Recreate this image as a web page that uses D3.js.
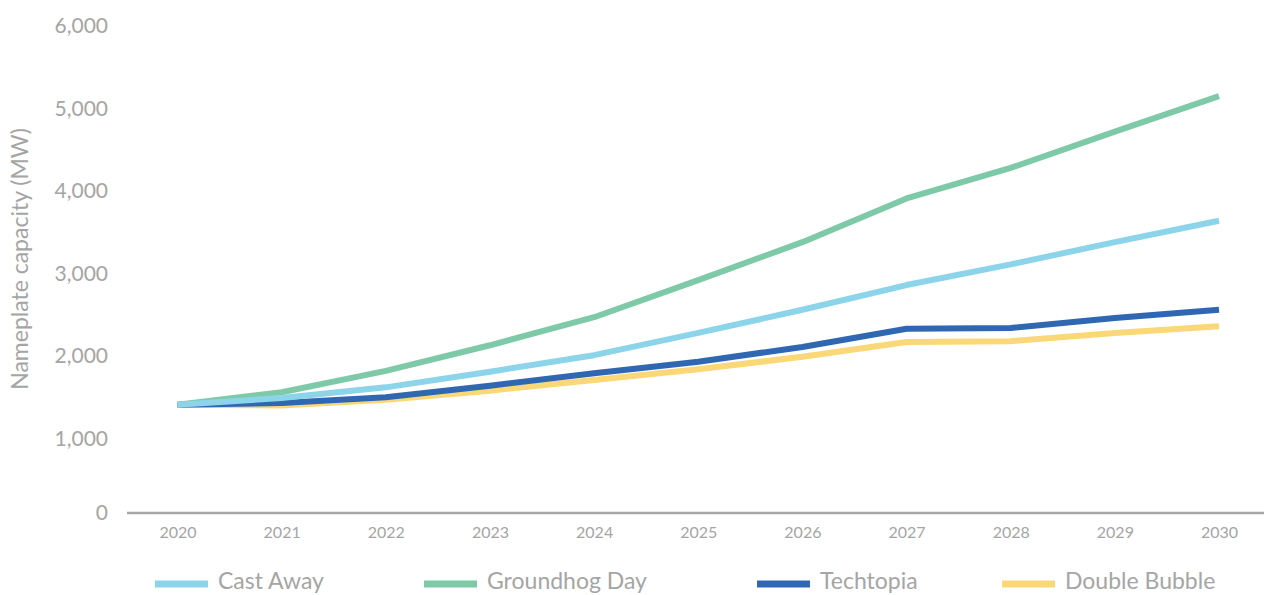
<!DOCTYPE html>
<html>
<head>
<meta charset="utf-8">
<script src="https://cdn.jsdelivr.net/npm/d3@7"></script>
<style>
  body { margin: 0; background: #fff; }
  text { font-family: Lato, "Noto Sans", sans-serif; fill: #a5a5a5; }
</style>
</head>
<body>
<svg id="chart" width="1264" height="595"></svg>
<script>
// data
var years = [2020, 2021, 2022, 2023, 2024, 2025, 2026, 2027, 2028, 2029, 2030];
var yTicks = [0, 1000, 2000, 3000, 4000, 5000, 6000];
var castAway = [1410, 1490, 1620, 1810, 2010, 2280, 2560, 2860, 3110, 3380, 3640];
var groundhogDay = [1410, 1560, 1820, 2130, 2470, 2920, 3380, 3910, 4280, 4720, 5150];
var techtopia = [1410, 1430, 1500, 1640, 1790, 1930, 2110, 2330, 2340, 2460, 2560];
var doubleBubble = [1410, 1400, 1470, 1580, 1710, 1840, 1990, 2170, 2180, 2280, 2360];

var seriesNames = ['Cast Away', 'Groundhog Day', 'Techtopia', 'Double Bubble'];
var seriesValues = [castAway, groundhogDay, techtopia, doubleBubble];
var seriesColors = ['#8bd4ea', '#7ecaa8', '#2f67b2', '#fbd877'];
var drawOrder = [3, 2, 1, 0];

var svg = d3.select('#chart');

var xScale = d3.scaleLinear().domain([2020, 2030]).range([177.5, 1219]);
var yScale = d3.scaleLinear().domain([0, 6000]).range([521, 26]);
var axisY = 513; // the baseline line sits a little above the true zero in the original

// y tick labels
var yAxis = d3.axisLeft(yScale)
  .tickValues(yTicks)
  .tickSize(0)
  .tickPadding(0)
  .tickFormat(d3.format(','));

var gy = svg.append('g')
  .attr('transform', 'translate(108,0)')
  .call(yAxis);
gy.select('.domain').remove();
gy.selectAll('text')
  .attr('font-size', 21)
  .attr('fill', '#a5a5a5')
  .style('font-family', 'Lato, "Noto Sans", sans-serif');
gy.selectAll('.tick').filter(function(d) { return d === 0; })
  .attr('transform', 'translate(0,' + axisY + ')');

// x axis
var xAxis = d3.axisBottom(xScale)
  .tickValues(years)
  .tickSize(0)
  .tickPadding(14)
  .tickFormat(d3.format('d'));

var gx = svg.append('g')
  .attr('transform', 'translate(0,' + axisY + ')')
  .call(xAxis);
gx.select('.domain').remove();
gx.selectAll('text')
  .attr('font-size', 16)
  .attr('fill', '#a5a5a5')
  .style('font-family', 'Lato, "Noto Sans", sans-serif');

svg.append('line')
  .attr('x1', 127).attr('x2', 1264)
  .attr('y1', axisY).attr('y2', axisY)
  .attr('stroke', '#a9a9a9')
  .attr('stroke-width', 2.5);

// axis title
svg.append('text')
  .attr('transform', 'translate(28,259) rotate(-90)')
  .attr('text-anchor', 'middle')
  .attr('font-size', 23)
  .text('Nameplate capacity (MW)');

// lines
var line = d3.line()
  .x(function(d, i) { return xScale(years[i]); })
  .y(function(d) { return yScale(d); });

drawOrder.forEach(function(k) {
  svg.append('path')
    .datum(seriesValues[k])
    .attr('d', line)
    .attr('fill', 'none')
    .attr('stroke', seriesColors[k])
    .attr('stroke-width', 6)
    .attr('stroke-linejoin', 'round');
});

// legend
var legendX = [155, 424, 757, 1002];
var legend = svg.append('g');
seriesNames.forEach(function(name, i) {
  legend.append('line')
    .attr('x1', legendX[i]).attr('x2', legendX[i] + 53)
    .attr('y1', 584).attr('y2', 584)
    .attr('stroke', seriesColors[i])
    .attr('stroke-width', 7);
  legend.append('text')
    .attr('x', legendX[i] + 63)
    .attr('y', 589)
    .attr('font-size', 23)
    .text(name);
});
</script>
</body>
</html>
